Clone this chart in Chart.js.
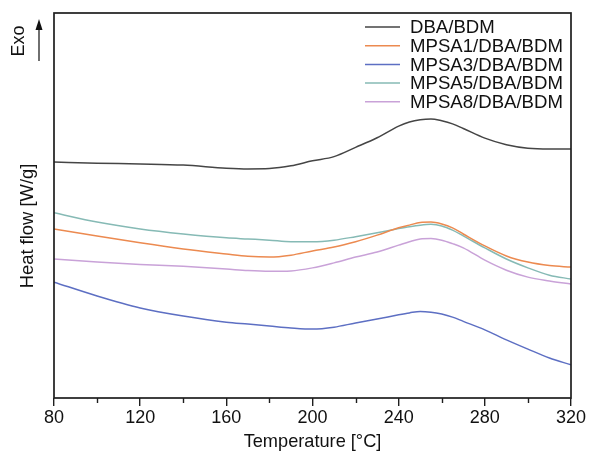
<!DOCTYPE html>
<html>
<head>
<meta charset="utf-8">
<script src="https://cdn.jsdelivr.net/npm/chart.js@4/dist/chart.umd.min.js"></script>
<style>
  html, body { margin: 0; padding: 0; background: #fff; }
  #wrap { width: 591px; height: 454px; }
</style>
</head>
<body>
<div id="wrap"><canvas id="c" width="591" height="454"></canvas></div>
<script>
// Temperature grid (°C)
const temps = [80,100,120,140,160,170,180,190,200,210,220,230,240,245,250,255,260,265,270,280,290,300,310,320];

// Heat flow (arbitrary offset units, Exo up)
const dbaBdm   = [6.13,6.10,6.08,6.05,5.97,5.95,5.96,6.03,6.16,6.27,6.51,6.76,7.06,7.17,7.23,7.25,7.20,7.12,7.00,6.75,6.58,6.49,6.47,6.47];
const mpsa1    = [4.39,4.21,4.03,3.87,3.74,3.68,3.66,3.71,3.82,3.92,4.06,4.23,4.42,4.49,4.56,4.57,4.52,4.42,4.26,3.95,3.69,3.53,3.44,3.40];
const mpsa3    = [3.01,2.65,2.34,2.13,1.97,1.92,1.87,1.82,1.79,1.84,1.95,2.05,2.16,2.21,2.25,2.23,2.18,2.10,1.99,1.77,1.51,1.27,1.04,0.86];
const mpsa5    = [4.81,4.57,4.39,4.26,4.16,4.13,4.10,4.06,4.06,4.10,4.19,4.29,4.40,4.45,4.49,4.51,4.47,4.36,4.21,3.90,3.61,3.38,3.19,3.09];
const mpsa8    = [3.61,3.53,3.47,3.42,3.35,3.31,3.29,3.30,3.38,3.51,3.66,3.79,3.97,4.06,4.13,4.14,4.10,4.01,3.90,3.58,3.32,3.14,3.04,2.96];

const seriesLabels = ['DBA/BDM','MPSA1/DBA/BDM','MPSA3/DBA/BDM','MPSA5/DBA/BDM','MPSA8/DBA/BDM'];
const seriesColors = ['#454545','#ec8a50','#5d6fc3','#86bab5','#c9a2d8'];
const seriesValues = [dbaBdm, mpsa1, mpsa3, mpsa5, mpsa8];

const xMajorTicks = [80,120,160,200,240,280,320];
const xMinorTicks = [100,140,180,220,260,300];

const FONT = "'Liberation Sans', Arial, sans-serif";

const datasets = seriesValues.map((vals, i) => ({
  label: seriesLabels[i],
  data: temps.map((t, k) => ({x: t, y: vals[k]})),
  borderColor: seriesColors[i],
  borderWidth: 1.5,
  pointRadius: 0,
  fill: false,
  cubicInterpolationMode: 'monotone'
}));

const decor = {
  id: 'decor',
  afterDraw(chart) {
    const ctx = chart.ctx;
    const a = chart.chartArea;
    const xs = chart.scales.x;
    ctx.save();
    // frame
    ctx.strokeStyle = '#1e1e1e';
    ctx.lineWidth = 1.7;
    ctx.strokeRect(a.left, a.top, a.right - a.left, a.bottom - a.top);
    // minor ticks
    ctx.lineWidth = 1.4;
    xMinorTicks.forEach(v => {
      const px = Math.round(xs.getPixelForValue(v)) + 0.5;
      ctx.beginPath(); ctx.moveTo(px, a.bottom); ctx.lineTo(px, a.bottom + 5); ctx.stroke();
    });
    // legend
    ctx.font = '18.6px ' + FONT;
    ctx.textBaseline = 'middle';
    ctx.textAlign = 'left';
    chart.data.datasets.forEach((ds, i) => {
      const y = 27 + i * 18.7;
      ctx.strokeStyle = ds.borderColor;
      ctx.lineWidth = 1.5;
      ctx.beginPath(); ctx.moveTo(365, y); ctx.lineTo(400, y); ctx.stroke();
      ctx.fillStyle = '#111';
      ctx.fillText(ds.label, 410, y + 1);
    });
    // y title
    const yt = chart.options.scales.y.title;
    ctx.font = '18.4px ' + FONT;
    ctx.fillStyle = '#111';
    ctx.translate(28, 226);
    ctx.rotate(-Math.PI / 2);
    ctx.textAlign = 'center';
    ctx.fillText(yt.text, 0, 0);
    ctx.restore();
    // Exo label and arrow
    ctx.save();
    ctx.font = '18px ' + FONT;
    ctx.fillStyle = '#111';
    ctx.translate(18, 41);
    ctx.rotate(-Math.PI / 2);
    ctx.textAlign = 'center';
    ctx.textBaseline = 'middle';
    ctx.fillText('Exo', 0, 1);
    ctx.restore();
    ctx.save();
    ctx.strokeStyle = '#333';
    ctx.fillStyle = '#111';
    ctx.lineWidth = 1.4;
    ctx.beginPath(); ctx.moveTo(39, 61); ctx.lineTo(39, 27); ctx.stroke();
    ctx.beginPath(); ctx.moveTo(39, 19); ctx.lineTo(35.5, 30); ctx.lineTo(42.5, 30); ctx.closePath(); ctx.fill();
    ctx.restore();
  }
};

new Chart(document.getElementById('c'), {
  type: 'line',
  data: { datasets },
  options: {
    responsive: false,
    animation: false,
    devicePixelRatio: 1,
    layout: { padding: { left: 0, right: 20, top: 13, bottom: 0 } },
    plugins: { legend: { display: false }, tooltip: { enabled: false } },
    scales: {
      x: {
        type: 'linear',
        min: 80, max: 320,
        afterBuildTicks: s => { s.ticks = xMajorTicks.map(v => ({value: v})); },
        ticks: { color: '#111', font: { family: FONT, size: 18 }, padding: 1, maxRotation: 0, autoSkip: false },
        grid: { display: true, drawOnChartArea: false, drawTicks: true, tickLength: 8, color: '#1e1e1e', lineWidth: 1.4 },
        border: { display: false },
        title: { display: true, text: 'Temperature [°C]', color: '#111', font: { family: FONT, size: 18.2 }, padding: { top: 0, bottom: 1 } },
        afterFit: s => { s.height = 56; }
      },
      y: {
        min: 0, max: 10,
        ticks: { display: false },
        grid: { display: false },
        border: { display: false },
        title: { display: false, text: 'Heat flow [W/g]' },
        afterFit: s => { s.width = 54; }
      }
    }
  },
  plugins: [decor]
});
</script>
</body>
</html>
